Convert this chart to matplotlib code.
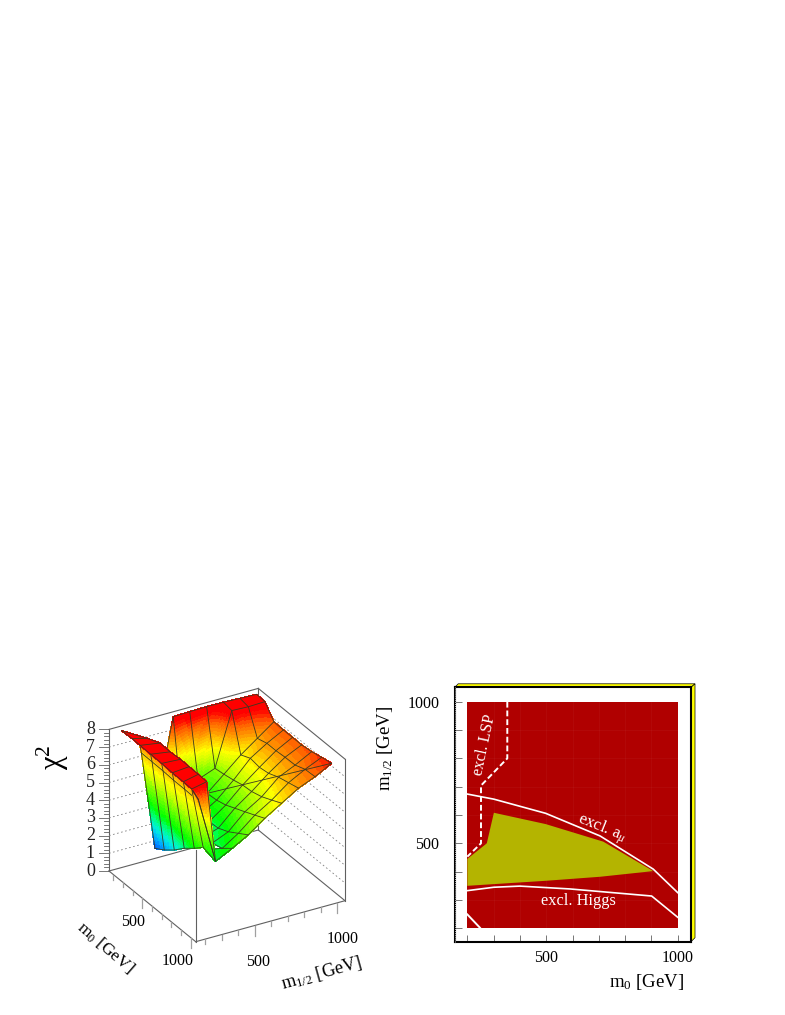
import numpy as np
import matplotlib
matplotlib.use('Agg')
import matplotlib.pyplot as plt
from matplotlib.collections import PolyCollection
from matplotlib.colors import LinearSegmentedColormap, BoundaryNorm
from matplotlib.patches import Polygon

plt.rcParams['font.family'] = ['Liberation Serif', 'DejaVu Serif']
plt.rcParams['mathtext.fontset'] = 'custom'
plt.rcParams['mathtext.rm'] = 'Liberation Serif'
plt.rcParams['mathtext.it'] = 'Liberation Serif:italic'

nan = np.nan

# left panel, main sheet of the surface
mesh_m0 = [155, 241, 334, 433, 527, 621, 725, 828, 931]
mesh_m12 = [1036, 936, 836, 734, 632, 532, 435, 334]
mesh_chi2 = [
    [7.69, 7.66, 6.94, 6.92, 6.92, 6.91, 6.99, 7.13, 7.25],
    [7.72, 7.63, 6.26, 6.42, 6.42, 6.47, 6.49, 6.71, 6.75],
    [7.76, 7.67, 5.58, 5.83, 5.74, 5.82, 6.06, 6.21, 6.36],
    [7.77, 4.67, 4.75, 4.86, 5.00, 5.05, 5.22, 5.49, 5.77],
    [7.75, 4.30, 3.93, 3.99, 4.13, 4.37, 4.63, 4.90, 5.18],
    [7.72, 3.30, 3.30, 3.41, 3.45, 3.50, 3.76, 4.13, 4.50],
    [3.27, 3.10, 3.00, 3.05, 3.10, 3.20, 3.37, 3.53, 3.99],
    [nan, nan, nan, nan, nan, nan, nan, 3.70, 3.51],
]

# left panel, steep wall under the red strip
wall_m0_top = [119, 229, 343, 453, 567, 654]
wall_m0_mid = [127, 237, 351, 461, 575, 662]
wall_m0_bot = [337, 447, 561, 671, 785, 872]
wall_m12_top = [352, 352, 352, 352, 352, 352]
wall_m12_mid = [356, 356, 356, 356, 356, 356]
wall_m12_bot = [315, 307, 301, 297, 291, 294]
wall_chi2_top = [6.40, 6.39, 6.38, 6.34, 6.34, 6.32]
wall_chi2_mid = [6.00, 5.99, 5.98, 5.94, 5.94, 5.92]
wall_chi2_bot = [1.65, 2.07, 2.59, 3.19, 3.71, 4.14]

# left panel, red strip
strip_front_m0 = [155, 254, 337, 447, 561, 671, 785, 872]
strip_front_m12 = [220, 225, 225, 225, 225, 225, 225, 225]
strip_front_chi2 = [7.73, 7.72, 7.70, 7.69, 7.68, 7.64, 7.64, 7.62]
strip_back_m0 = [155, 254, 357, 460, 568, 657, 752, 839]
strip_back_m12 = [220, 315, 334, 334, 334, 334, 334, 334]
strip_back_chi2 = [7.73, 7.50, 7.64, 7.60, 7.66, 7.64, 7.63, 7.60]

# end of the strip, down to the lowest tip
notch_m0, notch_m12, notch_chi2 = 749, 336, 6.20
tip_m0, tip_m12, tip_chi2 = 931, 334, 3.51

# colour scale of the surface
level_chi2 = [1.4, 1.75, 2.2, 2.7, 3.2, 3.7, 4.5, 5.1, 5.6, 6.3, 6.9, 7.4, 7.8]
level_colors = ['#0040ff', '#0070ff', '#00b0ff', '#00f0e0', '#00ff80', '#00ff00', '#70ff00',
                '#c8ff00', '#ffff00', '#ffa800', '#ff6000', '#ff0000', '#ff0000']

chi2_ticks = [0, 1, 2, 3, 4, 5, 6, 7, 8]
mass_ticks = [200, 300, 400, 500, 600, 700, 800, 900, 1000]

# right panel regions
allowed_m0 = [200, 274, 301, 498, 717, 907, 705, 502, 200]
allowed_m12 = [445, 500, 608, 568, 506, 402, 382, 368, 350]
amu_m0 = [200, 301, 498, 705, 907, 1000]
amu_m12 = [674, 656, 606, 526, 409, 326]
higgs_m0 = [200, 301, 400, 590, 901, 1000]
higgs_m12 = [333, 345, 349, 339, 314, 239]
corner_m0 = [200, 248]
corner_m12 = [249, 202]
lsp_m0 = [352, 352, 252, 252, 200]
lsp_m12 = [1000, 800, 704, 500, 453]


def project(m0, m12, chi2):
    u = (np.asarray(m0, float) - 155) / 897
    v = (np.asarray(m12, float) - 143.5) / 903
    x = 109 + 86.7 * u + 149.3 * v
    y = 871 + 70.7 * u - 41 * v - 17.7 * np.asarray(chi2, float)
    return x, y


cmap = LinearSegmentedColormap.from_list(
    'surf', [((z - 1.4) / 6.4, c) for z, c in zip(level_chi2, level_colors)], N=256)
norm = BoundaryNorm(np.linspace(1.4, 7.8, 43), 256)
line_color = '#3a3a20'


def draw_sheet(ax, m0, m12, chi2, z, lines=True, n=24):
    m0, m12, chi2 = np.asarray(m0, float), np.asarray(m12, float), np.asarray(chi2, float)
    x, y = project(m0, m12, chi2)
    polys, vals = [], []
    t = np.linspace(0, 1, n + 1)
    for j in range(x.shape[0] - 1):
        for i in range(x.shape[1] - 1):
            if np.isnan(chi2[j:j + 2, i:i + 2]).any():
                continue
            for a in range(n):
                for b in range(n):
                    ss = [t[a], t[a + 1], t[a + 1], t[a]]
                    rr = [t[b], t[b], t[b + 1], t[b + 1]]
                    poly = []
                    for s, r in zip(ss, rr):
                        px = (1 - s) * ((1 - r) * x[j, i] + r * x[j + 1, i]) + s * ((1 - r) * x[j, i + 1] + r * x[j + 1, i + 1])
                        py = (1 - s) * ((1 - r) * y[j, i] + r * y[j + 1, i]) + s * ((1 - r) * y[j, i + 1] + r * y[j + 1, i + 1])
                        poly.append((px, py))
                    sm, rm = t[a] + 0.5 / n, t[b] + 0.5 / n
                    val = (1 - sm) * ((1 - rm) * chi2[j, i] + rm * chi2[j + 1, i]) + sm * ((1 - rm) * chi2[j, i + 1] + rm * chi2[j + 1, i + 1])
                    polys.append(poly)
                    vals.append(val)
    colors = cmap(norm(vals))
    ax.add_collection(PolyCollection(polys, facecolors=colors, edgecolors=colors, linewidths=0.5,
                                     antialiaseds=False, zorder=z))
    if lines:
        for row_x, row_y in zip(x, y):
            ax.plot(row_x, row_y, color=line_color, lw=0.6, zorder=z + 0.5)
        for col_x, col_y in zip(x.T, y.T):
            ax.plot(col_x, col_y, color=line_color, lw=0.6, zorder=z + 0.5)


fig = plt.figure(figsize=(7.85, 10.15), dpi=100)
ov = fig.add_axes([0, 0, 1, 1])
ov.set_xlim(0, 785)
ov.set_ylim(1015, 0)
ov.axis('off')

# box of the left panel
m0_lo, m0_hi, m12_lo, m12_hi = 155, 1052, 143.5, 1046.5
frame = '#606060'
for a, b in [((m0_lo, m12_lo), (m0_hi, m12_lo)), ((m0_hi, m12_lo), (m0_hi, m12_hi)),
             ((m0_lo, m12_lo), (m0_lo, m12_hi)), ((m0_lo, m12_hi), (m0_hi, m12_hi))]:
    x, y = project([a[0], b[0]], [a[1], b[1]], [0, 0])
    ov.plot(x, y, color=frame, lw=0.8, zorder=1)
for a, b in [((m0_lo, m12_lo), (m0_lo, m12_hi)), ((m0_lo, m12_hi), (m0_hi, m12_hi))]:
    x, y = project([a[0], b[0]], [a[1], b[1]], [8, 8])
    ov.plot(x, y, color=frame, lw=0.8, zorder=1)
for m0, m12, top in [(m0_lo, m12_lo, 8), (m0_lo, m12_hi, 8), (m0_hi, m12_hi, 8), (m0_hi, m12_lo, 5.2)]:
    x, y = project([m0, m0], [m12, m12], [0, top])
    ov.plot(x, y, color=frame, lw=0.8, zorder=1)

for c in chi2_ticks[1:-1]:
    x, y = project([m0_lo, m0_lo], [m12_lo, m12_hi], [c, c])
    ov.plot(x, y, color='#808080', lw=0.6, ls=(0, (2, 3)), zorder=1)
    x, y = project([m0_lo, m0_hi], [m12_hi, m12_hi], [c, c])
    ov.plot(x, y, color='#808080', lw=0.6, ls=(0, (2, 3)), zorder=1)

# chi2 axis ticks
for c in np.arange(0, 8.01, 0.2):
    x, y = project(m0_lo, m12_lo, c)
    major = abs(c - round(c)) < 1e-6
    ov.plot([x - (10 if major else 5), x], [y, y], color=frame, lw=0.6, zorder=1)
for c in chi2_ticks:
    x, y = project(m0_lo, m12_lo, c)
    ov.text(x - 14, y, str(c), ha='right', va='center', fontsize=13, color='#222222')

# floor axis ticks
for t in mass_ticks:
    major = t in (500, 1000)
    x, y = project(t, m12_lo, 0)
    ov.plot([x, x], [y, y + (10 if major else 5)], color='#a0a0a0', lw=0.9, zorder=1)
    x, y = project(m0_hi, t, 0)
    ov.plot([x, x], [y, y + (10 if major else 5)], color='#a0a0a0', lw=0.9, zorder=1)

ov.text(132.7, 921.7, '500', ha='center', va='center', fontsize=11.5)
ov.text(177.7, 960.7, '1000', ha='center', va='center', fontsize=11.5)
ov.text(257.7, 961.7, '500', ha='center', va='center', fontsize=11.5)
ov.text(342.7, 939, '1000', ha='center', va='center', fontsize=11.5)
ov.text(53, 757, 'χ$^{\\mathrm{2}}$', rotation=90, ha='center', va='center', fontsize=22)
ov.text(105, 948, r'm$_{\mathrm{0}}$ [GeV]', rotation=-41, rotation_mode='anchor',
        ha='center', va='center', fontsize=12.5)
ov.text(322, 973, r'm$_{\mathrm{1/2}}$ [GeV]', rotation=15.5, rotation_mode='anchor',
        ha='center', va='center', fontsize=13.2)

# surface, far parts first
mesh_x = np.tile(mesh_m0, (len(mesh_m12), 1))
mesh_y = np.tile(np.array(mesh_m12)[:, None], (1, len(mesh_m0)))
draw_sheet(ov, mesh_x, mesh_y, mesh_chi2, 3)
x, y = project([mesh_m0[2], mesh_m0[8]], [mesh_m12[4], mesh_m12[0]], [mesh_chi2[4][2], mesh_chi2[0][8]])
ov.plot(x, y, color=line_color, lw=0.6, zorder=3.6)

draw_sheet(ov, [wall_m0_top, wall_m0_mid, wall_m0_bot], [wall_m12_top, wall_m12_mid, wall_m12_bot],
           [wall_chi2_top, wall_chi2_mid, wall_chi2_bot], 5)
# last stripe of the wall, then the corner between strip and tip
draw_sheet(ov, [[wall_m0_top[5], notch_m0], [wall_m0_bot[5], tip_m0]],
           [[wall_m12_top[5], notch_m12], [wall_m12_bot[5], tip_m12]],
           [[wall_chi2_top[5], notch_chi2], [wall_chi2_bot[5], tip_chi2]], 5.6)
draw_sheet(ov, [[strip_front_m0[-1], strip_back_m0[-1]], [notch_m0, tip_m0]],
           [[strip_front_m12[-1], strip_back_m12[-1]], [notch_m12, tip_m12]],
           [[strip_front_chi2[-1], strip_back_chi2[-1]], [notch_chi2, tip_chi2]], 6)
draw_sheet(ov, [strip_front_m0, strip_back_m0], [strip_front_m12, strip_back_m12],
           [strip_front_chi2, strip_back_chi2], 7)

# right panel frame with its yellow sides
box = [454.7, 687.3, 691, 941.7]
ov.add_patch(Polygon([(box[0], box[1]), (box[0] + 3.5, box[1] - 3.5), (box[2] + 4, box[1] - 3.5), (box[2], box[1])],
                     closed=True, facecolor='#ffff00', edgecolor='k', lw=0.5))
ov.add_patch(Polygon([(box[2], box[1]), (box[2] + 4, box[1] - 3.5), (box[2] + 4, box[3] - 4), (box[2], box[3])],
                     closed=True, facecolor='#ffff00', edgecolor='k', lw=0.5))

ax = fig.add_axes([box[0] / 785, 1 - box[3] / 1015, (box[2] - box[0]) / 785, (box[3] - box[1]) / 1015])
ax.set_xlim(152, 1050.6)
ax.set_ylim(152.7, 1051)
ax.fill_between([200, 1000], 200, 1000, color='#b00000', lw=0, zorder=1)
for t in mass_ticks[1:-1]:
    ax.plot([t, t], [200, 1000], color='w', lw=0.5, alpha=0.05, zorder=1.2)
    ax.plot([200, 1000], [t, t], color='w', lw=0.5, alpha=0.05, zorder=1.2)
ax.fill(allowed_m0, allowed_m12, color='#b4b400', lw=0, zorder=2)
ax.plot(amu_m0, amu_m12, color='w', lw=1.2, zorder=3)
ax.plot(higgs_m0, higgs_m12, color='w', lw=1.2, zorder=3)
ax.plot(corner_m0, corner_m12, color='w', lw=1.4, zorder=3)
ax.plot(lsp_m0, lsp_m12, color='w', lw=1.4, ls=(0, (3, 1.5)), zorder=3)
ax.text(267, 847, 'excl. LSP', color='w', rotation=78, ha='center', va='center', fontsize=11.5)
ax.text(711, 553, r'excl. a$_{\mu}$', color='w', rotation=-22, ha='center', va='center', fontsize=12)
ax.text(622, 298, 'excl. Higgs', color='w', ha='center', va='center', fontsize=11.8)
ax.set_xticks([500, 1000])
ax.set_yticks([500, 1000])
ax.set_xticks(mass_ticks, minor=True)
ax.set_yticks(mass_ticks, minor=True)
ax.tick_params(which='both', direction='in', width=0.5, length=5, color='#404040', labelsize=11.5)
ax.tick_params(axis='x', pad=6)
ax.tick_params(axis='y', pad=11)
for s in ax.spines.values():
    s.set_linewidth(1.5)
ax.plot([152, 152], [152.7, 1051], color='w', lw=0.5, ls=(0, (1.5, 1.5)), clip_on=False, zorder=5)
ov.text(646.7, 981.7, r'm$_{\mathrm{0}}$ [GeV]', ha='center', va='center', fontsize=13.5)
ov.text(385, 748, r'm$_{\mathrm{1/2}}$ [GeV]', rotation=90, ha='center', va='center', fontsize=13.5)

fig.savefig('out.png', dpi=100)
